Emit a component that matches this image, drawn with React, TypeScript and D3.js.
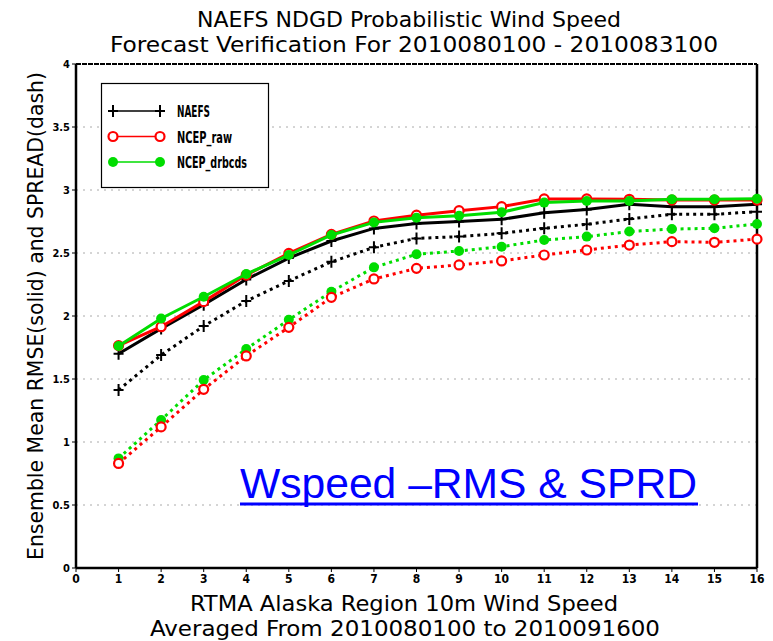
import React from "react";
import * as d3 from "d3";

const days = [1, 2, 3, 4, 5, 6, 7, 8, 9, 10, 11, 12, 13, 14, 15, 16];
const naefsRmse = [1.70, 1.90, 2.09, 2.29, 2.46, 2.595, 2.695, 2.735, 2.75, 2.767, 2.82, 2.846, 2.886, 2.868, 2.868, 2.886];
const rawRmse = [1.765, 1.915, 2.114, 2.325, 2.497, 2.648, 2.754, 2.80, 2.836, 2.868, 2.929, 2.929, 2.926, 2.92, 2.92, 2.92];
const drbRmse = [1.762, 1.98, 2.153, 2.333, 2.484, 2.643, 2.743, 2.78, 2.796, 2.823, 2.90, 2.913, 2.913, 2.926, 2.926, 2.93];
const naefsSprd = [1.413, 1.69, 1.92, 2.119, 2.278, 2.43, 2.545, 2.616, 2.63, 2.656, 2.696, 2.728, 2.77, 2.807, 2.807, 2.828];
const drbSprd = [0.87, 1.175, 1.492, 1.738, 1.97, 2.193, 2.386, 2.49, 2.516, 2.55, 2.603, 2.63, 2.67, 2.69, 2.696, 2.73];
const rawSprd = [0.83, 1.12, 1.418, 1.683, 1.91, 2.148, 2.294, 2.378, 2.405, 2.437, 2.484, 2.524, 2.563, 2.59, 2.585, 2.61];
const xTicks = [0, 1, 2, 3, 4, 5, 6, 7, 8, 9, 10, 11, 12, 13, 14, 15, 16];
const yTicks = [0, 0.5, 1, 1.5, 2, 2.5, 3, 3.5, 4];
const yTickLabels = ["0", "0.5", "1", "1.5", "2", "2.5", "3", "3.5", "4"];
const legendNames = ["NAEFS", "NCEP_raw", "NCEP_drbcds"];

const FONT = "'DejaVu Sans Condensed', 'Liberation Sans Narrow', 'DejaVu Sans', sans-serif";

export default function App() {
  const W = 773, H = 641;
  const x = d3.scaleLinear().domain([0, 16]).range([76, 757]);
  const y = d3.scaleLinear().domain([0, 4]).range([568, 64]);
  const line = (vals: number[]) =>
    d3.line<number>().x((_, i) => x(days[i])).y((v) => y(v))(vals) || "";

  const plus = (cx: number, cy: number, key: string) => (
    <path key={key} d={`M${cx - 5},${cy}H${cx + 5}M${cx},${cy - 6}V${cy + 6}`} stroke="#000" strokeWidth={2} fill="none" />
  );
  const openC = (cx: number, cy: number, key: string) => (
    <circle key={key} cx={cx} cy={cy} r={4.5} fill="#fff" stroke="#ff0000" strokeWidth={2.2} />
  );
  const fillC = (cx: number, cy: number, key: string) => (
    <circle key={key} cx={cx} cy={cy} r={5} fill="#00dd00" stroke="none" />
  );

  const series = [
    { vals: naefsSprd, color: "#000", dash: "3,4", mk: plus },
    { vals: drbSprd, color: "#00dd00", dash: "3,4", mk: fillC },
    { vals: rawSprd, color: "#ff0000", dash: "3,4", mk: openC },
    { vals: naefsRmse, color: "#000", dash: null, mk: plus },
    { vals: rawRmse, color: "#ff0000", dash: null, mk: openC },
    { vals: drbRmse, color: "#00dd00", dash: null, mk: fillC },
  ];

  const legendMk = [plus, openC, fillC];
  const legendCol = ["#000", "#ff0000", "#00dd00"];
  const legendW = [33, 55, 70];

  return (
    <svg width={W} height={H} style={{ display: "block", position: "absolute", left: 0, top: 0 }}>
      <rect width={W} height={H} fill="#fff" />
      {/* title */}
      <text x={409} y={27} textAnchor="middle" fontFamily={FONT} fontSize={22} textLength={424} lengthAdjust="spacingAndGlyphs">NAEFS NDGD Probabilistic Wind Speed</text>
      <text x={414} y={52} textAnchor="middle" fontFamily={FONT} fontSize={22} textLength={608} lengthAdjust="spacingAndGlyphs">Forecast Verification For 2010080100 - 2010083100</text>

      {/* grid */}
      {yTicks.slice(1, -1).map((t) => (
        <line key={"g" + t} x1={x(0)} x2={x(16)} y1={y(t)} y2={y(t)} stroke="#aaa" strokeWidth={1} strokeDasharray="2,5" />
      ))}

      {/* frame */}
      <line x1={x(0)} x2={x(16)} y1={y(4)} y2={y(4)} stroke="#000" strokeWidth={2} strokeDasharray="5,1" />
      <line x1={x(16)} x2={x(16)} y1={y(4)} y2={y(0)} stroke="#000" strokeWidth={2.5} />
      <line x1={x(0)} x2={x(0)} y1={y(4)} y2={y(0)} stroke="#000" strokeWidth={2.5} />
      <line x1={x(0)} x2={x(16)} y1={y(0)} y2={y(0)} stroke="#000" strokeWidth={2.5} />
      {yTicks.map((t) => (
        <line key={"yt" + t} x1={x(0) - 4} x2={x(0)} y1={y(t)} y2={y(t)} stroke="#000" strokeWidth={1} />
      ))}
      {xTicks.map((t) => (
        <line key={"xt" + t} x1={x(t)} x2={x(t)} y1={y(0)} y2={y(0) + 4} stroke="#000" strokeWidth={1} />
      ))}

      {/* tick labels */}
      {yTicks.map((t, i) => (
        <text key={"yl" + t} x={70} y={y(t) + 4} textAnchor="end" fontFamily={FONT} fontSize={11} fontWeight="bold">{yTickLabels[i]}</text>
      ))}
      {xTicks.map((t) => (
        <text key={"xl" + t} x={x(t)} y={583} textAnchor="middle" fontFamily={FONT} fontSize={12} fontWeight="bold">{String(t)}</text>
      ))}

      {/* axis titles */}
      <text x={404} y={611} textAnchor="middle" fontFamily={FONT} fontSize={22} textLength={428} lengthAdjust="spacingAndGlyphs">RTMA Alaska Region 10m Wind Speed</text>
      <text x={405} y={636} textAnchor="middle" fontFamily={FONT} fontSize={22} textLength={510} lengthAdjust="spacingAndGlyphs">Averaged From 2010080100 to 2010091600</text>
      <text transform="translate(43,316) rotate(-90)" textAnchor="middle" fontFamily={FONT} fontSize={21} textLength={488} lengthAdjust="spacingAndGlyphs">Ensemble Mean RMSE(solid) and SPREAD(dash)</text>

      {/* series */}
      {series.map((s, si) => (
        <g key={"s" + si}>
          <path d={line(s.vals)} fill="none" stroke={s.color} strokeWidth={3} strokeDasharray={s.dash || undefined} />
          {s.vals.map((v, i) => s.mk(x(days[i]), y(v), `m${si}-${i}`))}
        </g>
      ))}

      {/* legend */}
      <rect x={101.5} y={83.5} width={167} height={104} fill="#fff" stroke="#000" strokeWidth={1.2} />
      {legendNames.map((n, i) => {
        const ly = 111 + i * 25.5;
        return (
          <g key={n}>
            <line x1={113} x2={160} y1={ly} y2={ly} stroke={legendCol[i]} strokeWidth={1.5} />
            {legendMk[i](113, ly, "la" + i)}
            {legendMk[i](160, ly, "lb" + i)}
            <text x={177} y={ly + 6} fontFamily={FONT} fontSize={15} fontWeight="bold" textLength={legendW[i]} lengthAdjust="spacingAndGlyphs">{n}</text>
          </g>
        );
      })}

      {/* overlay label */}
      <rect x={238} y={462} width={462} height={40} fill="#fff" />
      <text x={240} y={498} fontFamily="'Liberation Sans', Arial, sans-serif" fontSize={42} fill="#0000ff" textLength={457} lengthAdjust="spacingAndGlyphs">Wspeed –RMS &amp; SPRD</text>
      <line x1={240} x2={698} y1={504} y2={504} stroke="#0000ff" strokeWidth={3} />
    </svg>
  );
}
